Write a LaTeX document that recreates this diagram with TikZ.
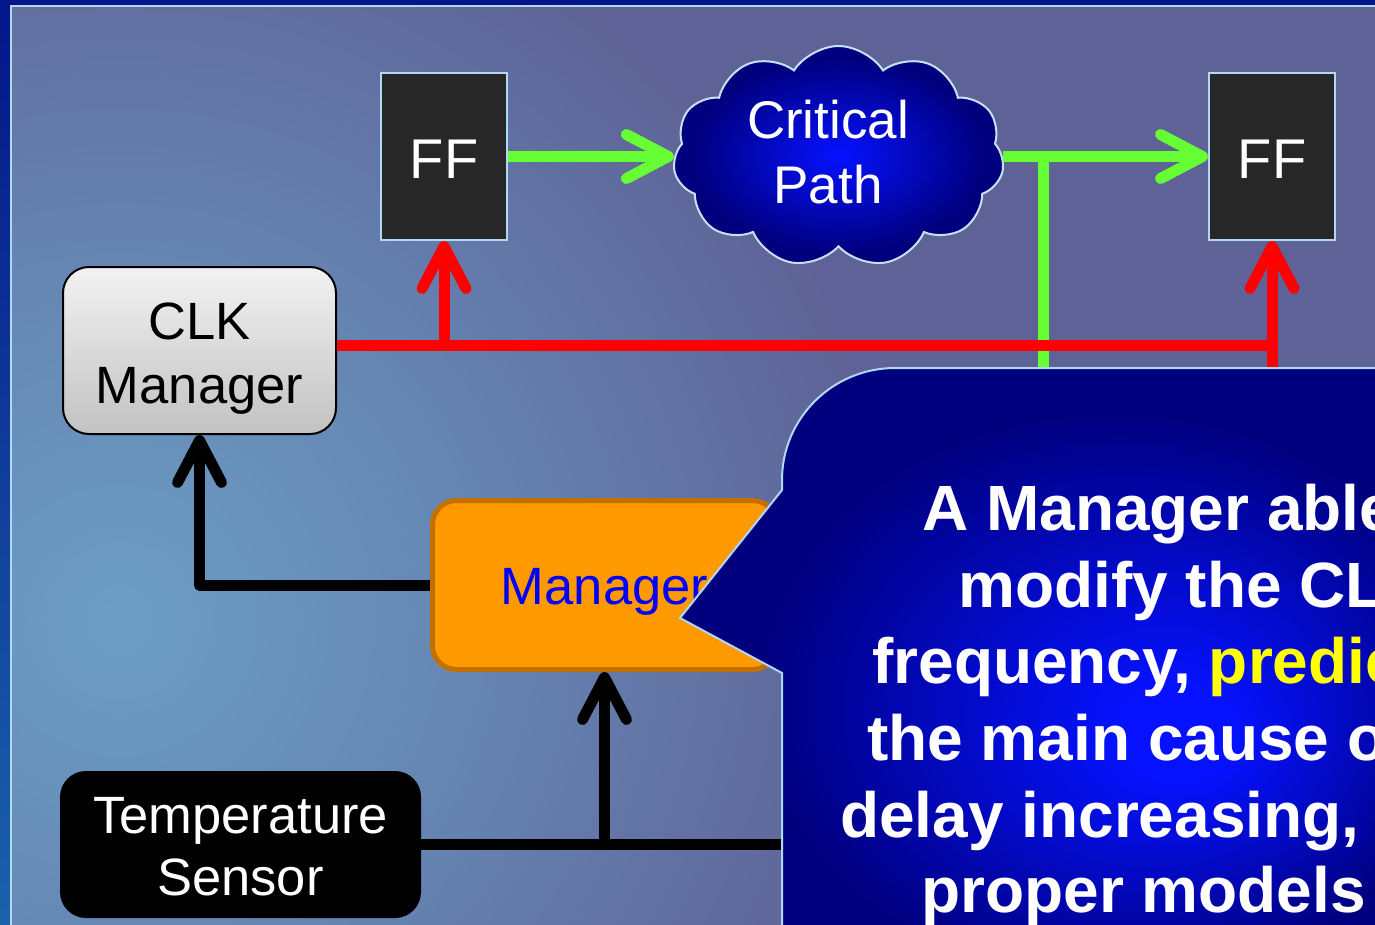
\documentclass[tikz,border=0pt]{standalone}
\usepackage{fontspec}
\setmainfont{Liberation Sans}
\usetikzlibrary{shapes.symbols,arrows.meta}

\definecolor{framedark}{HTML}{04168A}
\definecolor{framemid}{HTML}{1A62AA}
\definecolor{framelight}{HTML}{AED8F4}
\definecolor{bgglow}{HTML}{6C9EC4}
\definecolor{bgmid}{HTML}{6584B2}
\definecolor{bgtop}{HTML}{5F6296}
\definecolor{ffgray}{HTML}{272727}
\definecolor{wiregreen}{HTML}{66FF33}
\definecolor{wirered}{HTML}{FF0000}
\definecolor{cloudedge}{HTML}{C6E2F2}
\definecolor{brightblue}{HTML}{0612FF}
\definecolor{navy}{HTML}{00007E}
\definecolor{clktop}{HTML}{F2F2F2}
\definecolor{clkbottom}{HTML}{C2C2C2}
\definecolor{mgrfill}{HTML}{FF9900}
\definecolor{mgredge}{HTML}{C27100}
\definecolor{mgrtext}{HTML}{0000FF}
\definecolor{hiyellow}{HTML}{FFFF00}

% soft glow of the slide panel
\pgfdeclareradialshading{panelglow}{\pgfpoint{0bp}{0bp}}{%
  color(0bp)=(bgglow); color(12bp)=(bgmid); color(25bp)=(bgtop); color(50bp)=(bgtop)}
% bright core of the cloud
\pgfdeclareradialshading{cloudglow}{\pgfpoint{0bp}{0bp}}{%
  color(0bp)=(brightblue); color(22bp)=(navy); color(50bp)=(navy)}
% bright core of the callout, pushed right and down
\pgfdeclareradialshading{calloutglow}{\pgfpoint{11bp}{-7.5bp}}{%
  color(0bp)=(brightblue); color(4bp)=(brightblue); color(25bp)=(navy); color(50bp)=(navy)}

% nudge a centred line to the left by half the given amount
\newcommand{\leftnudge}{\hspace*{-21pt}}

\tikzset{
  barb/.tip={Straight Barb[length=42pt,width=44pt,round]},
  wire/.style={line width=11pt},
  greenwire/.style={wire, draw=wiregreen},
  redwire/.style={wire, draw=wirered},
  blackwire/.style={wire, draw=black, line join=round},
  ffbox/.style={draw=framelight, line width=2pt, fill=ffgray,
    minimum width=126pt, minimum height=167pt, inner sep=0pt,
    text=white, font=\fontsize{56}{64}\selectfont,
    text height=43pt, text depth=0pt},
  cloudnode/.style={cloud, cloud puffs=11, cloud puff arc=115, aspect=1.5,
    minimum width=331pt, minimum height=221pt, inner sep=0pt,
    draw=cloudedge, line width=2pt, shade, shading=cloudglow,
    text=white, align=center, font=\fontsize{53}{65}\selectfont,
    text height=100pt, text depth=7pt},
  clkbox/.style={draw=black, line width=2pt, rounded corners=26pt,
    top color=clktop, bottom color=clkbottom,
    minimum width=273pt, minimum height=167pt, inner sep=0pt,
    align=center, font=\fontsize{52.5}{64}\selectfont,
    text height=105pt, text depth=0pt},
  mgrbox/.style={draw=mgredge, line width=5pt, rounded corners=24pt,
    fill=mgrfill, minimum width=344pt, minimum height=169pt, inner sep=0pt,
    text=mgrtext, font=\fontsize{52.5}{64}\selectfont,
    text height=38pt, text depth=0pt},
  tempbox/.style={fill=black, rounded corners=26pt,
    minimum width=361pt, minimum height=147pt, inner sep=0pt,
    text=white, align=center, font=\fontsize{52.5}{62}\selectfont,
    text height=101pt, text depth=0pt},
  calltext/.style={anchor=base west, inner sep=0pt, text=white,
    font=\bfseries\fontsize{64}{77}\selectfont},
}

\begin{document}
\begin{tikzpicture}[x=1pt,y=-1pt]
\useasboundingbox (0,0) rectangle (1375,924);
\clip (0,0) rectangle (1375,924);

% slide frame and panel
\shade[top color=framedark, bottom color=framemid] (0,0) rectangle (1375,924);
\begin{scope}
  \clip (12,7) rectangle (1380,930);
  \fill[bgtop] (12,7) rectangle (1380,930);
  \shade[shading=panelglow] (120,620) circle (780);
\end{scope}
\draw[framelight, line width=2pt] (11,930) -- (11,6) -- (1380,6);

% blocks
\node[ffbox] (ff1) at (444,156.5) {FF};
\node[ffbox] (ff2) at (1272,156.5) {FF};
\node[cloudnode] (cp) at (838.5,156.5) {\leftnudge Critical\\\leftnudge Path};
\node[clkbox] (clk) at (199.5,350.5) {CLK\\Manager};
\node[mgrbox] (mgr) at (604.5,585) {Manager};
\node[tempbox] (temp) at (240.5,844.5) {Temperature\\Sensor};

% data path
\coordinate (gsplit) at (1043,156.5);
\coordinate (gdrop) at (1043,420);
\draw[greenwire,-barb] (ff1.east) -- (ff1.east -| cp.west);
\draw[greenwire,-barb] (ff2.west -| cp.east) -- (ff2.west);
\draw[greenwire] (gsplit) -- (gdrop);

% clock distribution
\coordinate (rturn) at (1272,345);
\coordinate (rdrop) at (1272,420);
\draw[redwire] ([yshift=5.5pt]clk.east) -- (rturn) -- (rdrop);
\draw[redwire,-barb] (ff1.south |- rturn) -- (ff1.south);
\draw[redwire,-barb] (rturn) -- (ff2.south);

% control path
\coordinate (tend) at (820,844.5);
\draw[blackwire,-barb] (mgr.west) -| (clk.south);
\draw[blackwire] (temp.east) -- (tend);
\draw[blackwire,-barb] (temp.east -| mgr.south) -- (mgr.south);

% callout
\shadedraw[shading=calloutglow, draw=framelight, line width=2pt]
  (782,940) -- (782,673) -- (680,618) -- (782,490) -- (782,480)
  .. controls (782,418) and (833,368) .. (895,368)
  -- (1390,368) -- (1390,940) -- cycle;
\node[calltext] (c1) at (922,530) {A Manager able to};
\node[calltext] (c2) at (958,607) {modify the CLK};
\node[calltext] (c3) at (872,683) {frequency, \textcolor{hiyellow}{predicting}};
\node[calltext] (c4) at (867,760) {the main cause of};
\node[calltext] (c5) at (840,837) {delay increasing,};
\node[calltext] (c6) at (921,912) {proper models};
\end{tikzpicture}
\end{document}
